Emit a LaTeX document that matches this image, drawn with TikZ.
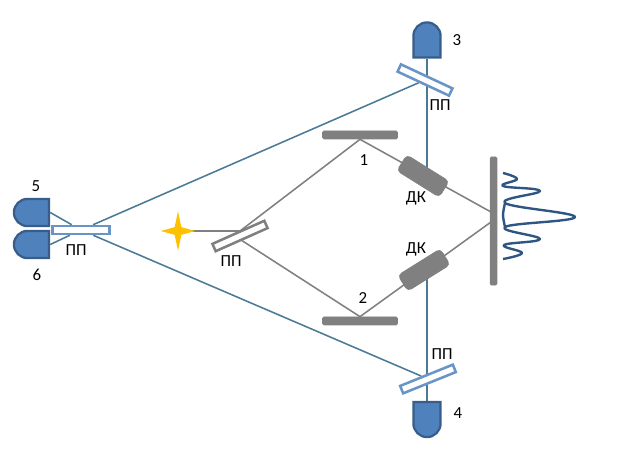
\documentclass[tikz,border=0pt]{standalone}
\usepackage{fontspec}
\setmainfont{Carlito}
\usetikzlibrary{shapes.geometric, shapes.misc, backgrounds}
\definecolor{cblue}{HTML}{4F81BD}
\definecolor{cdark}{HTML}{385D8A}
\definecolor{cline}{HTML}{4A7A96}
\definecolor{cgrey}{HTML}{808080}
\definecolor{cpeak}{HTML}{2F5583}
\definecolor{cstar}{HTML}{FFC000}
\tikzset{
  every picture/.style={font=\fontsize{12}{14}\selectfont},
  det/.style={rounded rectangle, rounded rectangle east arc=none, draw=cdark, fill=cblue, line width=1.6pt, minimum width=.88cm, minimum height=.68cm, inner sep=0pt},
  split/.style={draw=#1, fill=white, line width=1.8pt, minimum width=1.42cm, minimum height=.2cm, inner sep=0pt},
  split/.default=cblue!85!white,
  plate/.style={draw=cgrey, fill=cgrey, rounded corners=1pt, line width=.5pt, inner sep=0pt},
  crystal/.style={draw=cgrey, fill=cgrey, rounded corners=3pt, minimum width=1.25cm, minimum height=.47cm, inner sep=0pt},
  beam/.style={draw=cgrey, line width=1.1pt},
  relay/.style={draw=cline, line width=1.1pt},
  lbl/.style={inner sep=0pt},
}
\begin{document}
\begin{tikzpicture}[x=.025cm, y=-.025cm]
  \useasboundingbox (0, 0) rectangle (620, 458);
  \node[det, rotate=-90] (d3) at (427, 40) {};
  \node[det, rotate=90] (d4) at (427, 419.5) {};
  \node[det] (d5) at (31.5, 212.5) {};
  \node[det] (d6) at (31.5, 244.5) {};
  \node[split, rotate=-25] (pt) at (425, 80) {};
  \node[split, rotate=22] (pb) at (428, 379) {};
  \node[split] (pl) at (81, 230) {};
  \node[split=cgrey, rotate=24] (pc) at (240, 236) {};
  \node[plate, minimum width=1.87cm, minimum height=.2cm] (m1) at (360, 135) {};
  \node[plate, minimum width=1.87cm, minimum height=.2cm] (m2) at (360, 321) {};
  \node[plate, minimum width=.17cm, minimum height=3.2cm] (scr) at (493.5, 221) {};
  \node[crystal, rotate=-32] (k1) at (423, 176) {};
  \node[crystal, rotate=32] (k2) at (424, 270) {};
  \node[star, star points=4, star point ratio=3.6, fill=cstar, minimum size=.98cm, inner sep=0pt, xscale=.88] (src) at (178, 231) {};
  \coordinate (s1) at (491, 212);
  \coordinate (s2) at (491, 222);
  \coordinate (cu) at (240, 231);
  \coordinate (cl) at (241, 240);
  \begin{scope}[on background layer]
    \draw[beam] (src.center) -- (cu);
    \draw[beam] (cu) -- (m1.south);
    \draw[beam] (cl) -- (m2.north);
    \draw[beam] (m1.south) -- (s1);
    \draw[beam] (m2.north) -- (s2);
    \draw[relay] (d3) -- (d3 |- k1);
    \draw[relay] (d4) -- (d4 |- k2);
    \draw[relay] (pl) -- (pt);
    \draw[relay] (pl) -- (pb);
    \draw[relay] (d5.east) -- (pl);
    \draw[relay] (d6.east) -- (pl);
  \end{scope}
  \draw[cpeak, line width=1.7pt, line join=round] plot[smooth, tension=.7] coordinates {(503, 173) (517, 179) (503, 186) (540, 191) (505, 203) (575, 217) (505, 227) (540, 239) (504, 245) (522, 253) (503, 259)};
  \draw[cpeak, line width=1.7pt] plot[smooth] coordinates {(505, 203) (503, 215) (505, 227)};
  \node[lbl] (t3) at (457, 40) {3};
  \node[lbl] (t4) at (458, 413) {4};
  \node[lbl] (t5) at (36, 186) {5};
  \node[lbl] (t6) at (37, 275) {6};
  \node[lbl] (t1) at (364, 160) {1};
  \node[lbl] (t2) at (363, 298) {2};
  \node[lbl] (tpt) at (440, 105) {ПП};
  \node[lbl] (tpb) at (442, 354) {ПП};
  \node[lbl] (tpl) at (76, 250) {ПП};
  \node[lbl] (tpc) at (231, 261) {ПП};
  \node[lbl] (tk1) at (416, 198) {ДК};
  \node[lbl] (tk2) at (416, 249) {ДК};
\end{tikzpicture}
\end{document}
